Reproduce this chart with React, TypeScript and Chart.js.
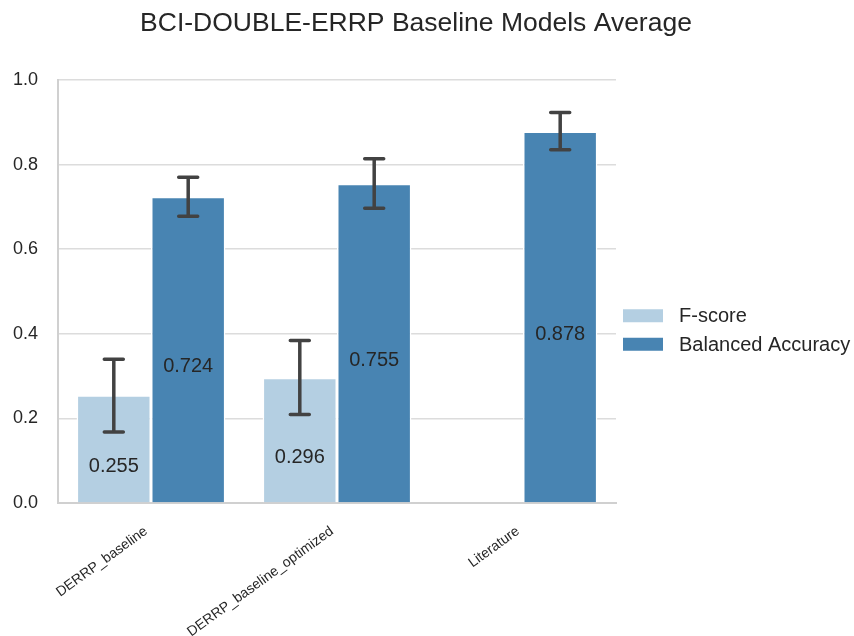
import React, { useEffect, useRef } from 'react';
import { Chart, registerables } from 'chart.js';

Chart.register(...registerables);

const TITLE = 'BCI-DOUBLE-ERRP Baseline Models Average';
const categories = ['DERRP_baseline', 'DERRP_baseline_optimized', 'Literature'];
const seriesNames = ['F-score', 'Balanced Accuracy'];
const fscore = [0.255, 0.296, null];
const balancedAccuracy = [0.724, 0.755, 0.878];
const fscoreLow = [0.168, 0.209, null];
const fscoreHigh = [0.340, 0.384, null];
const baLow = [0.678, 0.697, 0.835];
const baHigh = [0.770, 0.814, 0.923];
const yTicks = [0, 0.2, 0.4, 0.6, 0.8, 1.0];
const seriesColors = ['#b4cfe2', '#4884b2'];

const FONT = '"Liberation Sans", Arial, sans-serif';
const TEXT = '#262626';

const valueLabelPlugin = {
  id: 'valueLabels',
  afterDatasetsDraw(chart: any) {
    const ctx = chart.ctx;
    const y = chart.scales.y;
    ctx.save();
    ctx.font = `20px ${FONT}`;
    ctx.fillStyle = TEXT;
    ctx.textAlign = 'center';
    ctx.textBaseline = 'middle';
    chart.data.datasets.forEach((ds: any, i: number) => {
      const meta = chart.getDatasetMeta(i);
      meta.data.forEach((bar: any, j: number) => {
        const v = ds.data[j];
        if (v == null) return;
        const mid = (y.getPixelForValue(v) + y.getPixelForValue(0)) / 2;
        ctx.fillText(v.toFixed(3), bar.x, mid + 17);
      });
    });
    ctx.restore();
  },
};

const errorBarPlugin = {
  id: 'errorBars',
  afterDatasetsDraw(chart: any) {
    const ctx = chart.ctx;
    const y = chart.scales.y;
    ctx.save();
    ctx.strokeStyle = '#424242';
    ctx.lineWidth = 3.5;
    ctx.lineCap = 'round';
    chart.data.datasets.forEach((ds: any, i: number) => {
      const meta = chart.getDatasetMeta(i);
      meta.data.forEach((bar: any, j: number) => {
        const lo = ds.errLow[j];
        const hi = ds.errHigh[j];
        if (lo == null || hi == null) return;
        const x = bar.x;
        const y1 = y.getPixelForValue(lo);
        const y2 = y.getPixelForValue(hi);
        const hw = 9.5;
        ctx.beginPath();
        ctx.moveTo(x, y1);
        ctx.lineTo(x, y2);
        ctx.moveTo(x - hw, y1);
        ctx.lineTo(x + hw, y1);
        ctx.moveTo(x - hw, y2);
        ctx.lineTo(x + hw, y2);
        ctx.stroke();
      });
    });
    ctx.restore();
  },
};

const titlePlugin = {
  id: 'customTitle',
  afterDraw(chart: any) {
    const ctx = chart.ctx;
    ctx.save();
    ctx.font = `26.5px ${FONT}`;
    ctx.fillStyle = TEXT;
    ctx.textAlign = 'center';
    ctx.textBaseline = 'middle';
    ctx.fillText(TITLE, chart.width / 2 - 11, 24);
    ctx.restore();
  },
};

const legendPlugin = {
  id: 'sideLegend',
  afterDraw(chart: any) {
    const { ctx, chartArea } = chart;
    const rowH = 28.5;
    const cy = (chartArea.top + chartArea.bottom) / 2 + 38.5;
    const x0 = chartArea.right + 7;
    const n = chart.data.datasets.length;
    ctx.save();
    ctx.font = `20px ${FONT}`;
    ctx.textBaseline = 'middle';
    ctx.textAlign = 'left';
    chart.data.datasets.forEach((ds: any, i: number) => {
      const yc = cy - ((n - 1) * rowH) / 2 + i * rowH;
      ctx.fillStyle = ds.backgroundColor;
      ctx.fillRect(x0, yc - 6.5, 40, 13);
      ctx.fillStyle = TEXT;
      ctx.fillText(ds.label, x0 + 56, yc + 1);
    });
    ctx.restore();
  },
};

export default function App() {
  const canvasRef = useRef<HTMLCanvasElement | null>(null);

  useEffect(() => {
    if (!canvasRef.current) return;
    const chart = new Chart(canvasRef.current, {
      type: 'bar',
      data: {
        labels: categories,
        datasets: [
          {
            label: seriesNames[0],
            data: fscore,
            backgroundColor: seriesColors[0],
            borderColor: '#ffffff',
            borderWidth: 1.5,
            categoryPercentage: 0.8,
            barPercentage: 1.0,
            errLow: fscoreLow,
            errHigh: fscoreHigh,
          } as any,
          {
            label: seriesNames[1],
            data: balancedAccuracy,
            backgroundColor: seriesColors[1],
            borderColor: '#ffffff',
            borderWidth: 1.5,
            categoryPercentage: 0.8,
            barPercentage: 1.0,
            errLow: baLow,
            errHigh: baHigh,
          } as any,
        ],
      },
      options: {
        animation: false,
        responsive: true,
        maintainAspectRatio: false,
        layout: { padding: { top: 80, right: 238, left: 0, bottom: 0 } },
        plugins: {
          legend: { display: false },
          title: { display: false },
          tooltip: { enabled: false },
        },
        scales: {
          x: {
            grid: { display: false },
            border: { display: true, color: '#d0d0d0', width: 2 },
            ticks: {
              color: TEXT,
              font: { family: FONT, size: 14 },
              minRotation: 36,
              maxRotation: 36,
              padding: 12,
              labelOffset: -5,
            },
            afterFit(scale: any) {
              scale.height = 133;
            },
          },
          y: {
            min: 0,
            max: 1,
            grid: { color: '#dcdcdc', lineWidth: 1.5, drawTicks: false },
            border: { display: true, color: '#d0d0d0', width: 2 },
            ticks: {
              color: TEXT,
              font: { family: FONT, size: 18 },
              padding: 20,
              callback: (v: any) => Number(v).toFixed(1),
            },
            afterBuildTicks(scale: any) {
              scale.ticks = yTicks.map((v) => ({ value: v }));
            },
            afterFit(scale: any) {
              scale.width = 58;
            },
          },
        },
      },
      plugins: [valueLabelPlugin, errorBarPlugin, titlePlugin, legendPlugin],
    });
    return () => chart.destroy();
  }, []);

  return (
    <div style={{ position: 'fixed', left: 0, top: 0, width: 854, height: 636, background: '#ffffff' }}>
      <canvas ref={canvasRef} />
    </div>
  );
}
